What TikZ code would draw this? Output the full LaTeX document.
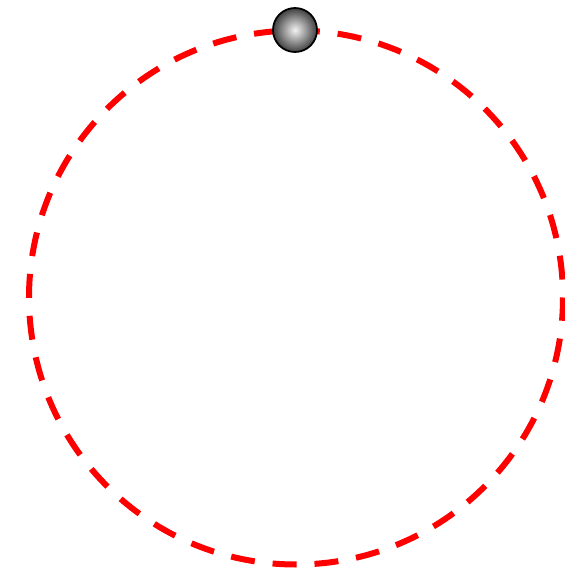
\documentclass[tikz,border=0pt]{standalone}
\usepackage{tikz}
\usetikzlibrary{shadings}
\definecolor{orbitred}{HTML}{FF0000}
\tikzset{
  orbit/.style={
    draw=orbitred, line width=0.06cm,
    dash pattern=on 0.24cm off 0.1794cm, dash phase=0.24cm
  },
  planet/.style={
    circle, draw=black, line width=0.5pt, minimum size=0.44cm, inner sep=0pt,
    inner color=gray!10, outer color=black!75
  }
}
\begin{document}
\begin{tikzpicture}[x=0.01cm,y=0.01cm]
  \useasboundingbox (0,0) rectangle (565,572);
  \coordinate (sun) at (296,274.5);
  \draw[orbit] (sun) circle[radius=267];
  \node[planet] (earth) at (295,542) {};
\end{tikzpicture}
\end{document}
